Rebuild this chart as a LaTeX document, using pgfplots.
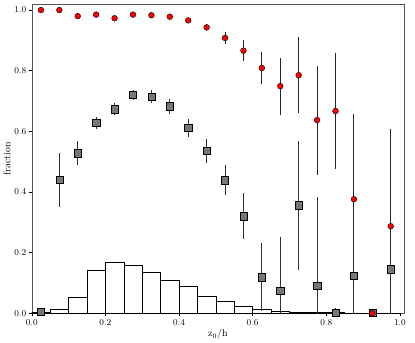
\documentclass[border=0pt]{standalone}
\usepackage{pgfplots}
\pgfplotsset{compat=1.18}
\definecolor{sqgray}{HTML}{777777}
\definecolor{framegray}{HTML}{555555}
\begin{document}
\begin{tikzpicture}
\begin{axis}[
  scale only axis,
  width=372pt,height=309pt,
  xmin=0,xmax=1.011,ymin=0,ymax=1.02,
  xtick={0,0.2,0.4,0.6,0.8,1.0},
  ytick={0,0.2,0.4,0.6,0.8,1.0},
  xticklabel style={/pgf/number format/.cd,fixed,fixed zerofill,precision=1},
  yticklabel style={xshift=1pt,/pgf/number format/.cd,fixed,fixed zerofill,precision=1},
  tick label style={font=\fontsize{9.5}{11}\selectfont},
  label style={font=\fontsize{10}{12}\selectfont},
  xlabel={z$_0$/h},ylabel={fraction},
  xlabel style={yshift=3pt},ylabel style={yshift=-3pt},
  tick align=outside,tick pos=left,
  major tick length=3pt,
  axis line style={framegray},
  every tick/.style={black},
  clip=true]
  % histogram
  \addplot[ybar interval,fill=white,draw=black,line width=0.5pt] coordinates {
    (0.00,0.003) (0.05,0.012) (0.10,0.052) (0.15,0.142) (0.20,0.168)
    (0.25,0.158) (0.30,0.135) (0.35,0.109) (0.40,0.089) (0.45,0.056)
    (0.50,0.040) (0.55,0.023) (0.60,0.013) (0.65,0.006) (0.70,0.002)
    (0.75,0.002) (0.80,0.003) (0.85,0.001) (0.90,0.001) (0.95,0.001) (1.00,0)};
  % grey squares
  \addplot[only marks,mark=square*,mark size=3.6pt,
    mark options={fill=sqgray,draw=black,line width=0.4pt},
    error bars/.cd,y dir=both,y explicit,error mark=none,
    error bar style={line width=0.9pt,black!80}]
    coordinates {
    (0.025,0.005) +- (0,0.0)
    (0.075,0.440) +- (0,0.090)
    (0.125,0.528) +- (0,0.040)
    (0.175,0.628) +- (0,0.020)
    (0.225,0.673) +- (0,0.020)
    (0.275,0.720) +- (0,0.016)
    (0.325,0.715) +- (0,0.020)
    (0.375,0.683) +- (0,0.025)
    (0.425,0.612) +- (0,0.030)
    (0.475,0.535) +- (0,0.040)
    (0.525,0.439) +- (0,0.050)
    (0.575,0.320) +- (0,0.076)
    (0.625,0.119) +- (0,0.112)
    (0.675,0.073) +- (0,0.180)
    (0.725,0.356) +- (0,0.212)
    (0.775,0.092) +- (0,0.290)
    (0.825,0.003) +- (0,0.015)
    (0.875,0.125) +- (0,0.220)
    (0.925,0.002) +- (0,0.0)
    (0.975,0.145) +- (0,0.250)};
  % red circles
  \addplot[only marks,mark=*,mark size=2.9pt,
    mark options={fill=red,draw=black,line width=0.4pt},
    error bars/.cd,y dir=both,y explicit,error mark=none,
    error bar style={line width=0.9pt,black!85}]
    coordinates {
    (0.025,1.000) +- (0,0.0)
    (0.075,1.000) +- (0,0.0)
    (0.125,0.980) +- (0,0.004)
    (0.175,0.985) +- (0,0.004)
    (0.225,0.973) +- (0,0.005)
    (0.275,0.985) +- (0,0.004)
    (0.325,0.983) +- (0,0.004)
    (0.375,0.978) +- (0,0.006)
    (0.425,0.966) +- (0,0.008)
    (0.475,0.943) +- (0,0.012)
    (0.525,0.908) +- (0,0.020)
    (0.575,0.866) +- (0,0.035)
    (0.625,0.809) +- (0,0.053)
    (0.675,0.749) +- (0,0.094)
    (0.725,0.785) +- (0,0.125)
    (0.775,0.637) +- (0,0.180)
    (0.825,0.667) +- (0,0.190)
    (0.875,0.376) +- (0,0.280)
    (0.925,0.000) +- (0,0.0)
    (0.975,0.287) +- (0,0.320)};
\end{axis}
\path ([shift={(-31pt,-27pt)}]current axis.south west)
  rectangle ([shift={(11pt,4pt)}]current axis.north east);
\end{tikzpicture}
\end{document}
